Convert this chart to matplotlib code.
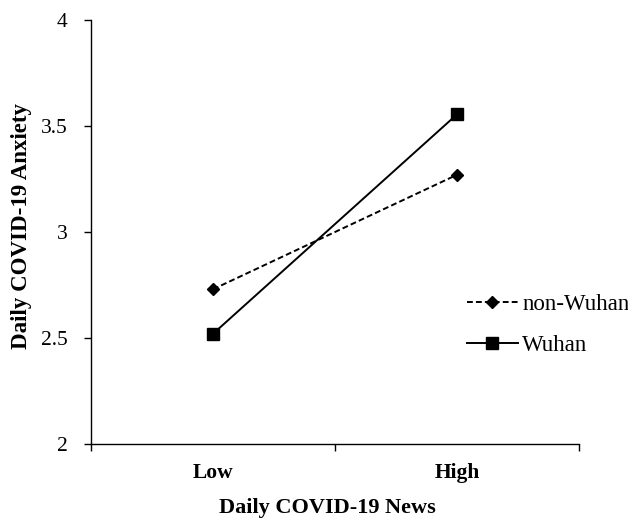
import matplotlib
matplotlib.use('Agg')
import matplotlib.pyplot as plt

categories = ['Low', 'High']
non_wuhan = [2.73, 3.27]
wuhan = [2.52, 3.555]
yticks = [2, 2.5, 3, 3.5, 4]

plt.rcParams['font.family'] = ['Liberation Serif', 'DejaVu Serif']

fig = plt.figure(figsize=(6.28, 5.19), dpi=100)
ax = fig.add_axes([0.145, 0.1445, 0.777, 0.817])

x = [0.5, 1.5]
ax.plot(x, non_wuhan, color='black', linestyle=(0, (3, 1.6)), linewidth=1.4,
        marker='D', markersize=6, label='non-Wuhan')
ax.plot(x, wuhan, color='black', linestyle='-', linewidth=1.4,
        marker='s', markersize=8, label='Wuhan')

ax.set_xlim(0, 2)
ax.set_ylim(2, 4)
ax.set_yticks(yticks)
ax.set_yticklabels(['2', '2.5', '3', '3.5', '4'], fontsize=15.5)
ax.set_xticks(x)
ax.set_xticklabels(categories, fontsize=15.5, fontweight='bold')
ax.tick_params(axis='x', which='major', length=0, pad=14)
ax.set_xticks([0, 1, 2], minor=True)
ax.tick_params(axis='x', which='minor', length=5, direction='out', width=1)
ax.tick_params(axis='y', length=5, direction='out', width=1, pad=12)

for s in ['top', 'right']:
    ax.spines[s].set_visible(False)
for s in ['left', 'bottom']:
    ax.spines[s].set_linewidth(1)

ax.set_xlabel('Daily COVID-19 News', fontsize=16, fontweight='bold')
ax.xaxis.set_label_coords(0.484, -0.128)
ax.set_ylabel('Daily COVID-19 Anxiety', fontsize=16.5, fontweight='bold')
ax.yaxis.set_label_coords(-0.121, 0.513)

ax.legend(loc='center left', bbox_to_anchor=(0.752, 0.28), frameon=False,
          fontsize=16.5, handlelength=2.2, handletextpad=0.2, labelspacing=0.88,
          borderaxespad=0)

fig.savefig('out.png', dpi=100)
